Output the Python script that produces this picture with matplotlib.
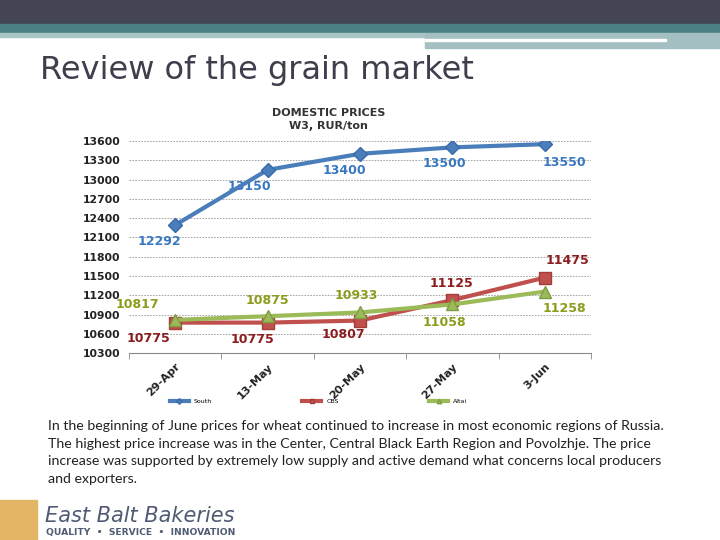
import numpy as np
import matplotlib.pyplot as plt
from matplotlib.patches import Rectangle

dates = ['29-Apr', '13-May', '20-May', '27-May', '3-Jun']
south = [12292, 13150, 13400, 13500, 13550]
cbs = [10775, 10775, 10807, 11125, 11475]
altai = [10817, 10875, 10933, 11058, 11258]
yticks = np.arange(10300, 13601, 300)

body = ("In the beginning of June prices for wheat continued to increase in most economic regions of Russia.\n"
        "The highest price increase was in the Center, Central Black Earth Region and Povolzhje. The price\n"
        "increase was supported by extremely low supply and active demand what concerns local producers\n"
        "and exporters.")

fig = plt.figure(figsize=(7.2, 5.4), dpi=100)

# slide header bands
fig.patches.append(Rectangle((0, 0.955), 1, 0.045, transform=fig.transFigure, color='#434555'))
fig.patches.append(Rectangle((0, 0.938), 1, 0.017, transform=fig.transFigure, color='#4b8184'))
fig.patches.append(Rectangle((0, 0.932), 0.59, 0.006, transform=fig.transFigure, color='#a9c4c5'))
fig.patches.append(Rectangle((0.59, 0.912), 0.41, 0.026, transform=fig.transFigure, color='#a3bfc1'))
fig.patches.append(Rectangle((0.59, 0.924), 0.335, 0.004, transform=fig.transFigure, color='white'))
fig.text(0.055, 0.87, 'Review of the grain market', fontsize=23, color='#3e3e4c', va='center')

ax = fig.add_axes([0.179, 0.346, 0.642, 0.393])
x = np.arange(len(dates))

ax.plot(x, south, color='#4a7ebb', lw=3, marker='D', ms=7, mec='#3a6aa8', label='South', zorder=4)
ax.plot(x, cbs, color='#c0504d', lw=3, marker='s', ms=8, mec='#a33e3b', label='CBS', zorder=3)
ax.plot(x, altai, color='#9bbb59', lw=3, marker='^', ms=8, mec='#7f9c43', label='Altai', zorder=3)

south_off = [(-11, -12), (-13, -12), (-11, -12), (-6, -11.5), (14, -13)]
cbs_off = [(-19, -11.5), (-11, -12), (-12, -10), (-1, 12), (16, 12)]
altai_off = [(-27, 11), (0, 11.5), (-3, 12), (-6, -13), (14, -12)]
for i in range(len(dates)):
    ax.annotate(str(south[i]), (x[i], south[i]), xytext=south_off[i], textcoords='offset points',
                ha='center', va='center', fontsize=9, fontweight='bold', color='#3a78c0')
    ax.annotate(str(cbs[i]), (x[i], cbs[i]), xytext=cbs_off[i], textcoords='offset points',
                ha='center', va='center', fontsize=9, fontweight='bold', color='#8c1d1f')
    ax.annotate(str(altai[i]), (x[i], altai[i]), xytext=altai_off[i], textcoords='offset points',
                ha='center', va='center', fontsize=9, fontweight='bold', color='#8e9c1c')

ax.set_xlim(-0.5, len(dates) - 0.5)
ax.set_ylim(10300, 13600)
ax.set_yticks(yticks)
ax.set_yticklabels([str(v) for v in yticks], fontsize=7.8, fontweight='bold', color='#222222')
ax.set_xticks(x)
ax.set_xticklabels(dates, rotation=45, ha='right', rotation_mode='anchor', fontsize=8,
                   fontweight='bold', color='#222222')
ax.set_xticks(np.arange(-0.5, len(dates)), minor=True)
ax.tick_params(axis='x', which='major', length=0, pad=6)
ax.tick_params(axis='x', which='minor', length=4, color='#888888')
ax.tick_params(axis='y', length=0, pad=6)
ax.grid(axis='y', ls=(0, (2, 1.5)), color='#999999', lw=0.6)
for s in ['top', 'right', 'left']:
    ax.spines[s].set_visible(False)
ax.spines['bottom'].set_color('#888888')
fig.text(0.456, 0.779, 'DOMESTIC PRICES\nW3, RUR/ton', fontsize=8, fontweight='bold', color='#333333',
         ha='center', va='center', linespacing=1.3)

ax.legend(loc='upper center', bbox_to_anchor=(0.41, -0.19), ncol=3, frameon=False, fontsize=4.5,
          handlelength=3, columnspacing=14.5, markerscale=0.4)

fig.text(0.067, 0.222, body, fontsize=10.2, color='#222222', va='top', linespacing=1.55,
         family='Lato')

# logo
fig.patches.append(Rectangle((0, 0), 0.052, 0.075, transform=fig.transFigure, color='#e3b564'))
fig.text(0.062, 0.045, 'East Balt Bakeries', fontsize=15, style='italic', color='#4f5a73', va='center')
fig.text(0.064, 0.013, 'QUALITY  \u2022  SERVICE  \u2022  INNOVATION', fontsize=6.6, fontweight='bold',
         color='#4f5a73', va='center')

fig.savefig('out.png', dpi=100)
